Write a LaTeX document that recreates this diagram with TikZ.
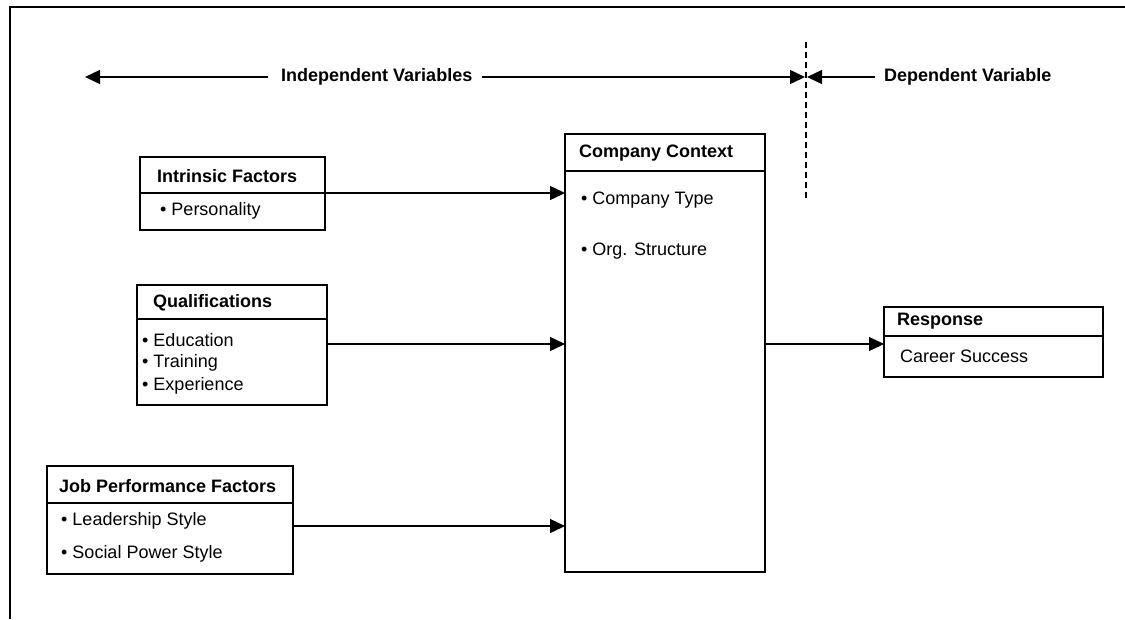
\documentclass[tikz,border=0pt]{standalone}
\usepackage{fontspec}
\setmainfont{Liberation Sans}
\usetikzlibrary{arrows.meta}
\begin{document}
\begin{tikzpicture}[x=1pt,y=-1pt,
  frame/.style={line width=1.8pt},
  boxline/.style={draw, line width=1.6pt, inner sep=0pt, outer sep=0pt, anchor=north west},
  hdr/.style={font=\fontsize{18}{22}\selectfont\bfseries, anchor=west, inner sep=0pt},
  item/.style={font=\fontsize{18}{22}\selectfont, anchor=west, inner sep=0pt},
  arr/.style={line width=1.4pt, -{Triangle[length=15pt,width=14pt]}},
  ]
\useasboundingbox (0,0) rectangle (1125,619);
% outer frame (top and left only)
\draw[frame] (10,619) -- (10,7) -- (1125,7);

% top labels
\node[hdr] (indep) at (281,77) {Independent Variables};
\node[hdr] (dep) at (884,77) {Dependent Variable};
\coordinate (lefttip) at (85,77);
\coordinate (divR) at (805,77);
\coordinate (divL) at (807,77);
\coordinate (dtop) at (806,42);
\coordinate (dbot) at (806,198);
\draw[arr] ([xshift=-13pt]indep.west) -- (lefttip);
\draw[arr] ([xshift=10pt]indep.east) -- (divR);
\draw[arr] ([xshift=-9pt]dep.west) -- (divL);
\draw[line width=1.4pt, dash pattern=on 6pt off 4pt] (dtop) -- (dbot);

% Intrinsic Factors
\node[boxline, minimum width=185pt, minimum height=36pt] (intrH) at (140,157) {};
\node[boxline, minimum width=185pt, minimum height=37pt] (intrB) at (intrH.south west) {};
\node[hdr] (intrT) at (157,176) {Intrinsic Factors};
\node[item] (intr1) at (160,211) {• Personality};

% Qualifications
\node[boxline, minimum width=190pt, minimum height=34pt] (qualH) at (137,285) {};
\node[boxline, minimum width=190pt, minimum height=86pt] (qualB) at (qualH.south west) {};
\node[hdr] (qualT) at (153,303) {Qualifications};
\node[item] (qual1) at (142,340) {• Education};
\node[item] (qual2) at (142,363) {• Training};
\node[item] (qual3) at (142,386) {• Experience};

% Job Performance Factors
\node[boxline, minimum width=246pt, minimum height=37pt] (jobH) at (47,466) {};
\node[boxline, minimum width=246pt, minimum height=71pt] (jobB) at (jobH.south west) {};
\node[hdr] (jobT) at (59,486) {Job Performance Factors};
\node[item] (job1) at (61,521) {• Leadership Style};
\node[item] (job2) at (61,554) {• Social Power Style};

% Company Context
\node[boxline, minimum width=200pt, minimum height=37pt] (ccH) at (565,134) {};
\node[boxline, minimum width=200pt, minimum height=401pt] (ccB) at (ccH.south west) {};
\node[hdr] (ccT) at (579,153) {Company Context};
\node[item] (cc1) at (581,200) {• Company Type};
\node[item] (cc2) at (581,251) {• Org. Structure};

% Response
\node[boxline, minimum width=219pt, minimum height=29pt] (respH) at (884,307) {};
\node[boxline, minimum width=219pt, minimum height=41pt] (respB) at (respH.south west) {};
\node[hdr] (respT) at (897,321) {Response};
\node[item] (resp1) at (900,356) {Career Success};

% connectors
\draw[arr] (intrH.south east) -- (intrH.south east -| ccB.west);
\path ([yshift=18pt]qualB.east) coordinate (qa);
\draw[arr] (qa) -- (qa -| ccB.west);
\path ([yshift=12.5pt]jobB.east) coordinate (ja);
\draw[arr] (ja) -- (ja -| ccB.west);
\draw[arr] (qa -| ccB.east) -- (qa -| respB.west);
\end{tikzpicture}
\end{document}
